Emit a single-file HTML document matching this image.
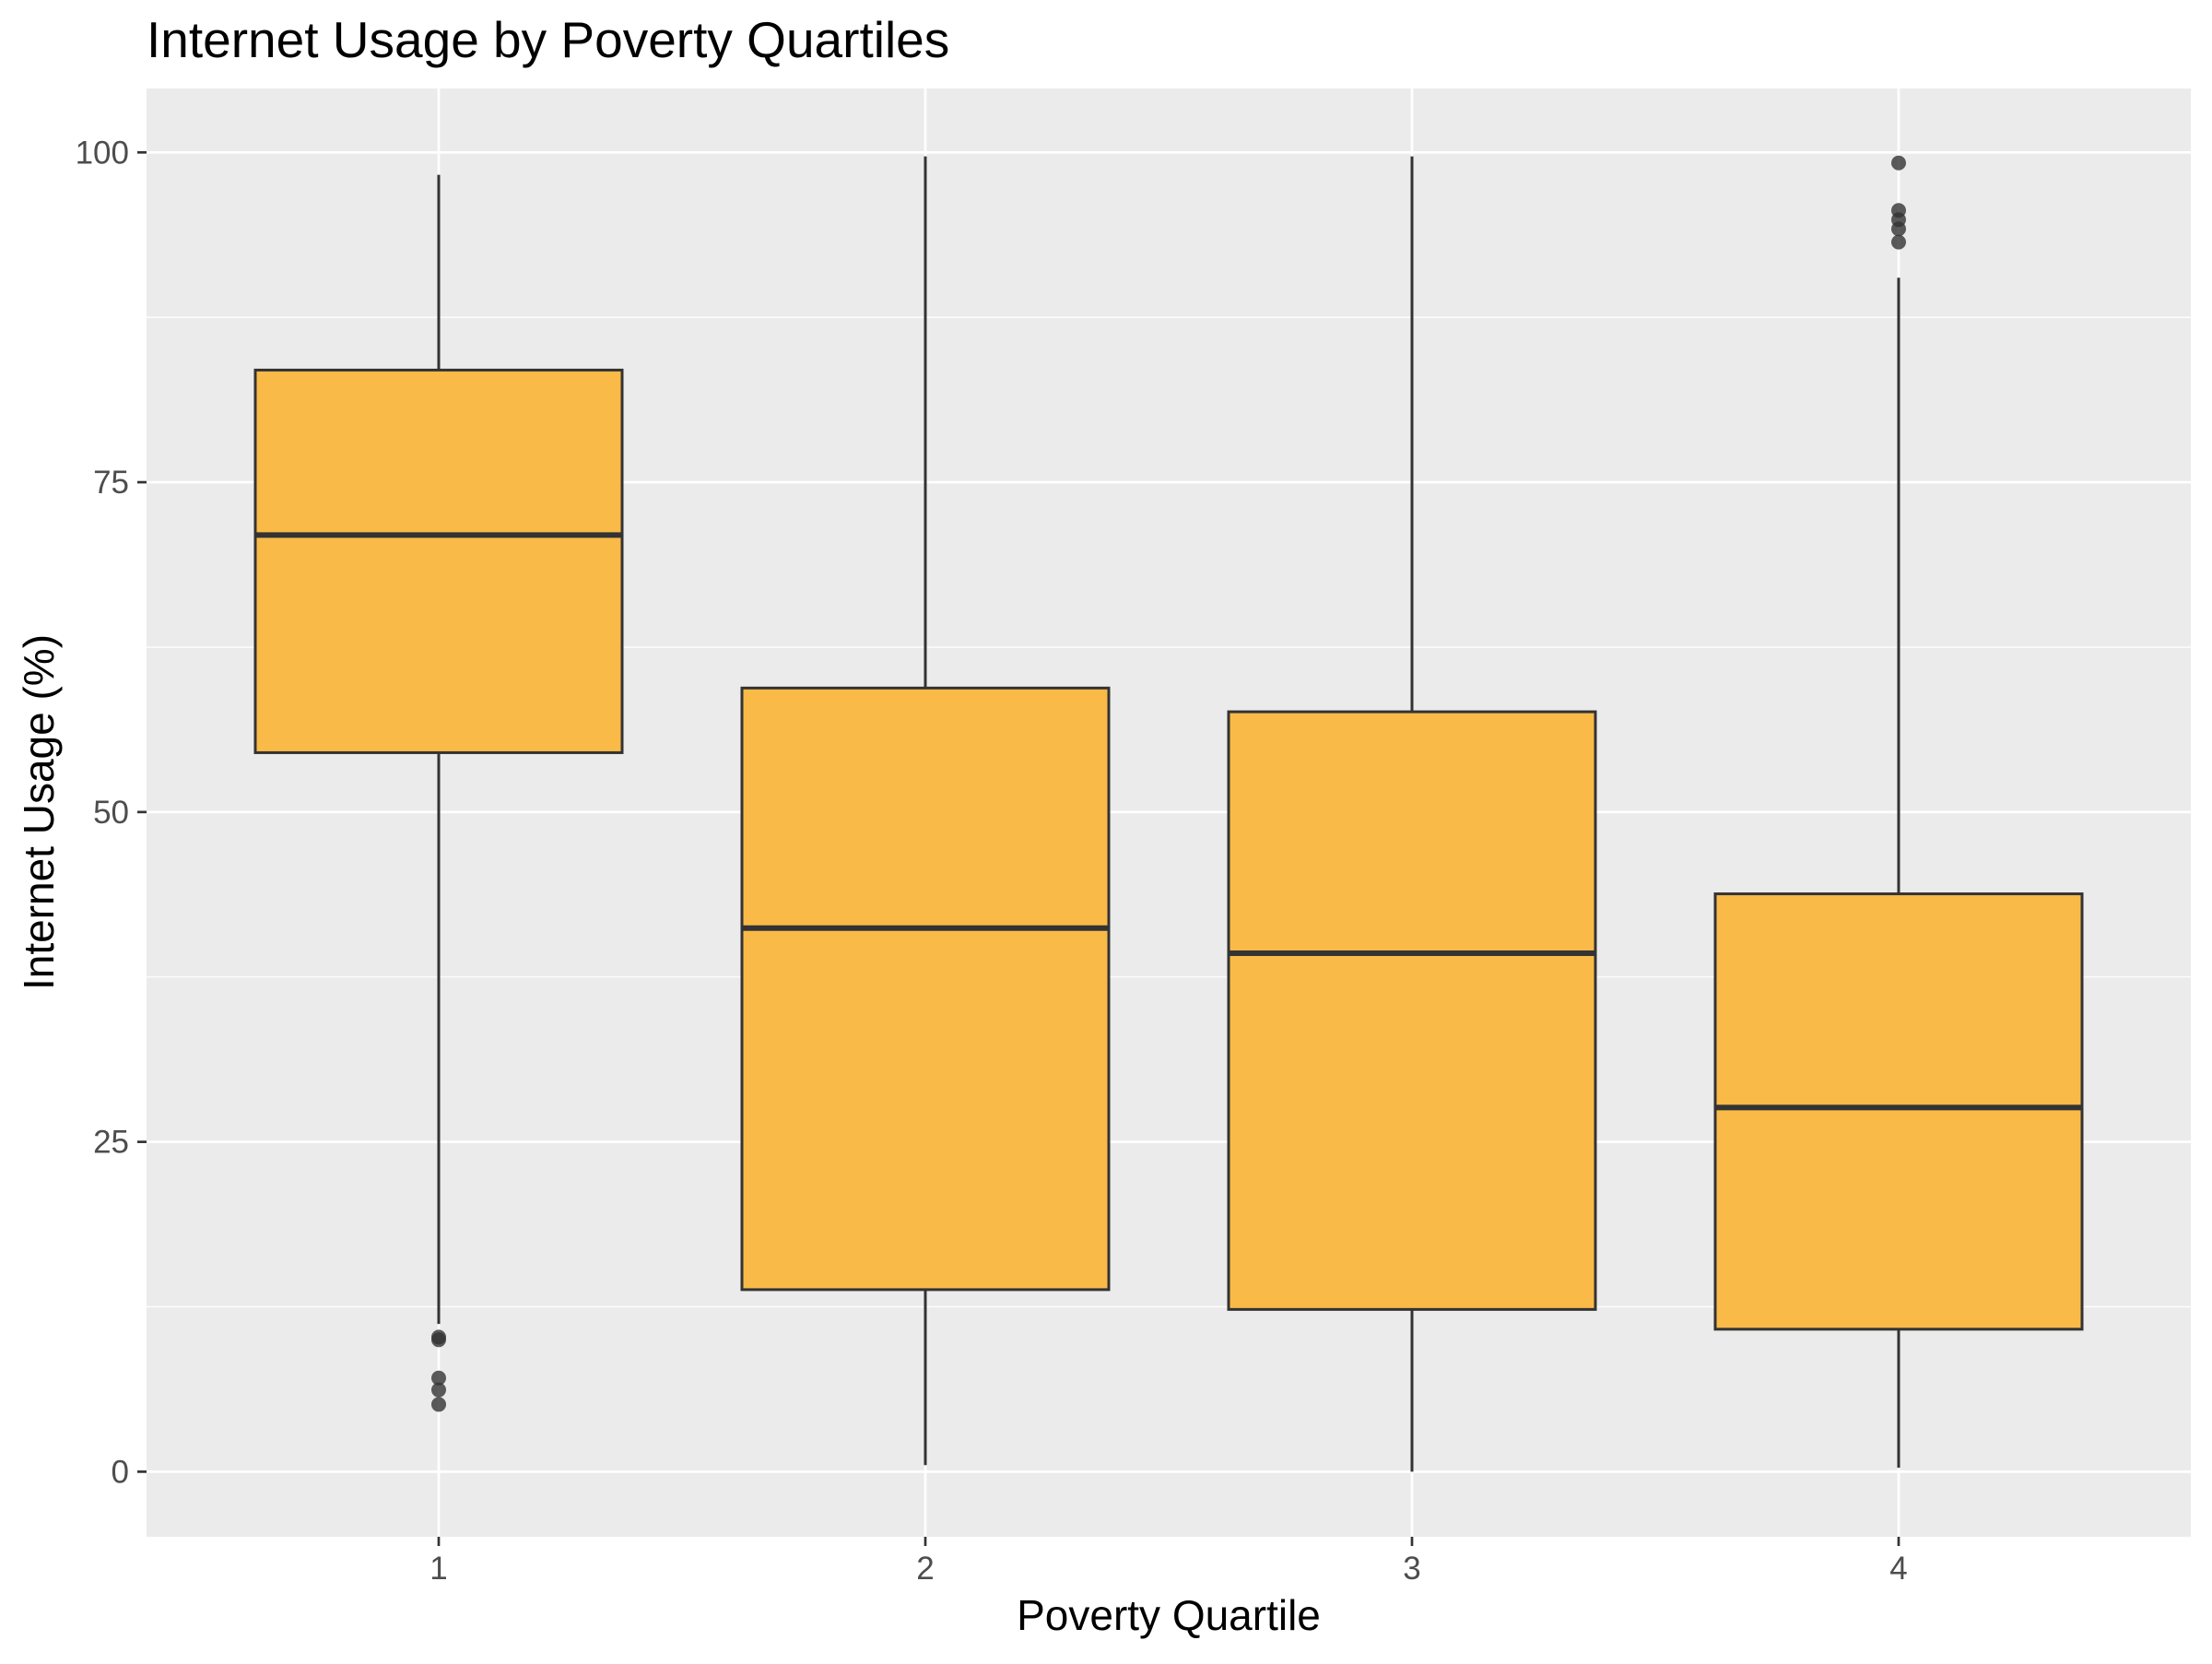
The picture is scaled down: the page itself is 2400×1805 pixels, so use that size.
<!DOCTYPE html>
<html><head><meta charset="utf-8"><style>
html,body{margin:0;padding:0;background:#fff;}
svg text{font-family:"Liberation Sans",sans-serif;}
</style></head><body>
<svg id="chart" width="2400" height="1800" viewBox="0 0 2400 1800" xmlns="http://www.w3.org/2000/svg">
<rect width="2400" height="1800" fill="#fff"/>
<text x="159" y="62" font-size="55" fill="#000">Internet Usage by Poverty Quartiles</text>
<rect x="159" y="96" width="2218" height="1571" fill="#EBEBEB"/>
<g id="grid"></g>
<g id="marks"></g>
<g id="axes"></g>
<text x="1268" y="1768" font-size="46" text-anchor="middle" fill="#000">Poverty Quartile</text>
<text transform="translate(58,881) rotate(-90)" font-size="46" text-anchor="middle" fill="#000">Internet Usage (%)</text>
</svg>
<script>
const categories = ["1","2","3","4"];
const lowerWhisker = [11.2, 0.5, 0.0, 0.3];
const q1Values = [54.5, 13.8, 12.3, 10.8];
const medians = [71.0, 41.2, 39.3, 27.6];
const q3Values = [83.5, 59.4, 57.6, 43.8];
const upperWhisker = [98.3, 99.7, 99.7, 90.5];
const outliers = [[10.2, 10.0, 7.1, 6.2, 5.1], [], [], [93.2, 94.2, 94.9, 95.6, 99.2]];
const yTicks = [0, 25, 50, 75, 100];
const yMinor = [12.5, 37.5, 62.5, 87.5];

const NS = "http://www.w3.org/2000/svg";
const y = v => 1596.4 - v * 14.311;
const x = i => 476 + i * 528;
const boxW = 398;
function mk(tag, attrs, parent) {
  const e = document.createElementNS(NS, tag);
  for (const k in attrs) e.setAttribute(k, attrs[k]);
  parent.appendChild(e);
  return e;
}
const grid = document.getElementById('grid');
const marks = document.getElementById('marks');
const axes = document.getElementById('axes');
yMinor.forEach(v => {
  const l = mk('line', {x1:159, x2:2377, y1:y(v), y2:y(v), stroke:'#fff', 'stroke-width':1.3}, grid);
  
  
});
yTicks.forEach(v => {
  const l = mk('line', {x1:159, x2:2377, y1:y(v), y2:y(v), stroke:'#fff', 'stroke-width':2.7}, grid);
  
  
  const t = mk('line', {x1:149, x2:159, y1:y(v), y2:y(v), stroke:'#333', 'stroke-width':2.7}, axes);
  
  
  const tx = mk('text', {x:140, y:y(v)+12, 'font-size':35, 'text-anchor':'end', fill:'#4D4D4D'}, axes);
  tx.textContent = v;
  
  
});
categories.forEach((c, i) => {
  const l = mk('line', {x1:x(i), x2:x(i), y1:96, y2:1667, stroke:'#fff', 'stroke-width':2.7}, grid);
  
  
  const t = mk('line', {x1:x(i), x2:x(i), y1:1667, y2:1677, stroke:'#333', 'stroke-width':2.7}, axes);
  
  
  const tx = mk('text', {x:x(i), y:1713, 'font-size':35, 'text-anchor':'middle', fill:'#4D4D4D'}, axes);
  tx.textContent = c;
  
  

  const w1 = mk('line', {x1:x(i), x2:x(i), y1:y(upperWhisker[i]), y2:y(q3Values[i]), stroke:'#333', 'stroke-width':3}, marks);
  
  
  const w2 = mk('line', {x1:x(i), x2:x(i), y1:y(q1Values[i]), y2:y(lowerWhisker[i]), stroke:'#333', 'stroke-width':3}, marks);
  
  
  const b = mk('rect', {x:x(i)-boxW/2, y:y(q3Values[i]), width:boxW, height:y(q1Values[i])-y(q3Values[i]), fill:'#F9BA48', stroke:'#333', 'stroke-width':3}, marks);
  
  
  const m = mk('line', {x1:x(i)-boxW/2, x2:x(i)+boxW/2, y1:y(medians[i]), y2:y(medians[i]), stroke:'#333', 'stroke-width':6}, marks);
  
  
  outliers[i].forEach(v => {
    const p = mk('circle', {cx:x(i), cy:y(v), r:8, fill:'#333', 'fill-opacity':0.8}, marks);
    
    
  });
});
</script>
</body></html>
